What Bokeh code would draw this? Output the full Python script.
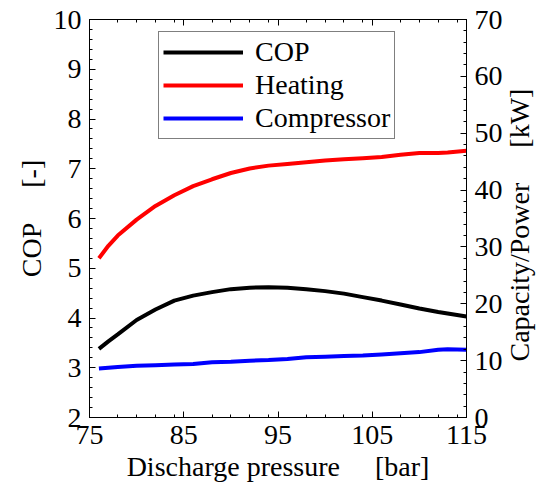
import math
from bokeh.plotting import figure
from bokeh.models import LinearAxis, Range1d, FixedTicker, Legend, LegendItem
from bokeh.embed import file_html
from bokeh.resources import INLINE

# ---- data ----
pressure = [76, 77, 78, 80, 82, 84, 86, 88, 90, 92, 94, 96, 98, 100, 102, 104, 106, 108, 110, 112, 113, 115]
cop = [3.38, 3.53, 3.67, 3.96, 4.17, 4.35, 4.45, 4.52, 4.58, 4.61, 4.62, 4.61, 4.58, 4.54, 4.49, 4.42,
       4.35, 4.27, 4.19, 4.12, 4.09, 4.03]
heating = [28.0, 30.2, 32.0, 34.8, 37.2, 39.1, 40.7, 41.9, 43.0, 43.8, 44.3, 44.6, 44.9, 45.2, 45.4, 45.6,
           45.8, 46.2, 46.5, 46.5, 46.6, 46.9]
compressor = [8.6, 8.75, 8.9, 9.1, 9.2, 9.3, 9.4, 9.7, 9.8, 10.0, 10.1, 10.3, 10.6, 10.7, 10.8, 10.9,
              11.1, 11.3, 11.5, 11.9, 12.0, 11.9]

x_ticks = [75, 85, 95, 105, 115]
x_minor = [78, 80, 82, 84, 88, 90, 92, 94, 98, 100, 102, 104, 108, 110, 112, 114]
cop_ticks = [2, 3, 4, 5, 6, 7, 8, 9, 10]
cop_minor = [round(2 + 0.2 * i, 1) for i in range(41)]
kw_ticks = [0, 10, 20, 30, 40, 50, 60, 70]
kw_minor = list(range(0, 71, 2))

x_label = "Discharge pressure\u2003 [bar]"
cop_label = "COP\u2003 [-]"
kw_label = "Capacity/Power\u2003 [kW]"

FONT = "serif"
FS = "28px"

p = figure(frame_width=377, frame_height=398,
           x_range=Range1d(75, 115), y_range=Range1d(2, 10),
           output_backend="svg", toolbar_location=None,
           min_border_left=89, min_border_top=19, min_border_right=20, min_border_bottom=60)
p.extra_y_ranges = {"kw": Range1d(0, 70)}
p.xgrid.grid_line_color = None
p.ygrid.grid_line_color = None
p.outline_line_color = "black"
p.background_fill_color = "white"
p.border_fill_color = "white"

r_cop = p.line(pressure, cop, line_color="black", line_width=4)
r_heat = p.line(pressure, heating, line_color="#ff0000", line_width=4, y_range_name="kw")
r_comp = p.line(pressure, compressor, line_color="#0000ff", line_width=4, y_range_name="kw")


def style(ax, ticks, minor, label=None, show_labels=True):
    ax.ticker = FixedTicker(ticks=ticks, minor_ticks=minor)
    ax.major_tick_in = 6
    ax.major_tick_out = 0
    ax.minor_tick_in = 3
    ax.minor_tick_out = 0
    ax.axis_line_color = "black"
    ax.major_tick_line_color = "black"
    ax.minor_tick_line_color = "black"
    ax.major_label_text_font = FONT
    if show_labels:
        ax.major_label_text_color = "black"
        ax.major_label_text_font_size = FS
        ax.major_label_standoff = 8
    else:
        ax.major_label_text_color = None
        ax.major_label_text_font_size = "1px"
        ax.major_label_standoff = 0
    if label is not None:
        ax.axis_label = label
        ax.axis_label_text_font = FONT
        ax.axis_label_text_font_size = FS
        ax.axis_label_text_font_style = "normal"
        ax.axis_label_text_color = "black"
        ax.axis_label_standoff = 4


style(p.below[0], x_ticks, x_minor, x_label)
style(p.left[0], cop_ticks, cop_minor, cop_label)

right = LinearAxis(y_range_name="kw")
style(right, kw_ticks, kw_minor, None)
p.add_layout(right, "right")

# second right-hand axis that only carries the kW axis title (reading bottom-to-top)
kw_title_axis = LinearAxis(y_range_name="kw")
style(kw_title_axis, [], [], kw_label, show_labels=False)
kw_title_axis.axis_line_color = None
kw_title_axis.major_tick_in = 0
kw_title_axis.minor_tick_in = 0
kw_title_axis.axis_label_standoff = 14
try:
    kw_title_axis.axis_label_align = "start"
    kw_title_axis.axis_label_orientation = math.pi / 2
    kw_title_axis.axis_label = "\u2003\u2003" + kw_label
except Exception:
    pass
p.add_layout(kw_title_axis, "right")

top = LinearAxis()
style(top, x_ticks, x_minor, None, show_labels=False)
p.add_layout(top, "above")

legend = Legend(items=[LegendItem(label="COP", renderers=[r_cop]),
                       LegendItem(label="Heating", renderers=[r_heat]),
                       LegendItem(label="Compressor", renderers=[r_comp])],
                location=(69, 278))
legend.margin = 0
legend.padding = 4
legend.spacing = 1
legend.label_height = 28
legend.glyph_height = 28
legend.glyph_width = 80
legend.label_standoff = 12
legend.label_text_font = FONT
legend.label_text_font_size = FS
legend.label_text_color = "black"
legend.border_line_color = "black"
legend.border_line_width = 1
legend.background_fill_color = "white"
legend.background_fill_alpha = 1
p.add_layout(legend, "center")

open("out.html", "w").write(file_html(p, INLINE))
